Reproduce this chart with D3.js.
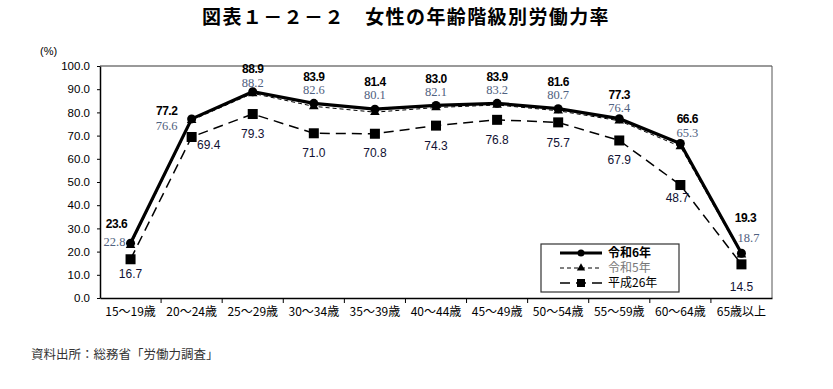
<!DOCTYPE html>
<html lang="ja">
<head>
<meta charset="utf-8">
<script src="https://cdn.jsdelivr.net/npm/d3@7"></script>
<style>
  body { margin: 0; background: #fff; }
  svg text { font-family: "Liberation Sans", Arial, "Noto Sans CJK JP", sans-serif; }
  .cjk { font-family: "Noto Sans CJK JP", sans-serif !important; }
</style>
</head>
<body>
<script>
var categories = ["15～19歳","20～24歳","25～29歳","30～34歳","35～39歳","40～44歳","45～49歳","50～54歳","55～59歳","60～64歳","65歳以上"];
var r6  = [23.6, 77.2, 88.9, 83.9, 81.4, 83.0, 83.9, 81.6, 77.3, 66.6, 19.3];
var r5  = [22.8, 76.6, 88.2, 82.6, 80.1, 82.1, 83.2, 80.7, 76.4, 65.3, 18.7];
var h26 = [16.7, 69.4, 79.3, 71.0, 70.8, 74.3, 76.8, 75.7, 67.9, 48.7, 14.5];
var yTicks = [0,10,20,30,40,50,60,70,80,90,100];

var width = 833, height = 389;
var pLeft = 100, pRight = 772, pTop = 66, pBottom = 298;

var svg = d3.select("body").append("svg")
    .attr("width", width).attr("height", height);

var x = d3.scaleBand().domain(categories).range([pLeft, pRight]);
var y = d3.scaleLinear().domain([0, 100]).range([pBottom, pTop]);
function cx(i) { return x(categories[i]) + x.bandwidth() / 2; }

// title
svg.append("text").attr("class", "cjk")
    .attr("x", 406).attr("y", 24).attr("text-anchor", "middle")
    .attr("font-size", 19).attr("font-weight", "bold").attr("letter-spacing", 1.4)
    .text("図表１－２－２　女性の年齢階級別労働力率");

svg.append("text").attr("x", 40).attr("y", 55)
    .attr("font-size", 11).text("(%)");

// frame
svg.append("line").attr("x1", pLeft).attr("x2", pRight).attr("y1", pTop).attr("y2", pTop)
    .attr("stroke", "#777").attr("stroke-width", 1.5);
svg.append("line").attr("x1", pRight).attr("x2", pRight).attr("y1", pTop).attr("y2", pBottom)
    .attr("stroke", "#555").attr("stroke-width", 1);

// y axis
var yAxis = svg.append("g").attr("transform", "translate(" + pLeft + ",0)")
    .call(d3.axisLeft(y).tickValues(yTicks).tickFormat(d3.format(".1f")).tickSize(3).tickSizeOuter(0));
yAxis.selectAll("text").attr("font-size", 11.5).attr("fill", "#000").attr("x", -10);
yAxis.select(".domain").attr("stroke", "#000").attr("stroke-width", 1.5);

// x axis
var xAxis = svg.append("g").attr("transform", "translate(0," + pBottom + ")")
    .call(d3.axisBottom(x).tickSize(0));
xAxis.select(".domain").attr("stroke", "#000").attr("stroke-width", 1.5);
xAxis.selectAll("text").attr("class", "cjk").attr("font-size", 12).attr("fill", "#000").attr("dy", "1.25em");
svg.append("g").selectAll("line").data(categories.slice(1)).enter().append("line")
    .attr("x1", function(d) { return x(d); }).attr("x2", function(d) { return x(d); })
    .attr("y1", pBottom).attr("y2", pBottom + 5).attr("stroke", "#000");

var line = d3.line().x(function(d, i) { return cx(i); }).y(function(d) { return y(d); });

// H26
svg.append("path").datum(h26).attr("d", line).attr("fill", "none")
    .attr("stroke", "#000").attr("stroke-width", 1.5).attr("stroke-dasharray", "10,6");
svg.append("g").selectAll("rect").data(h26).enter().append("rect")
    .attr("x", function(d, i) { return cx(i) - 5; }).attr("y", function(d) { return y(d) - 5; })
    .attr("width", 10).attr("height", 10).attr("fill", "#000");

// R5
svg.append("path").datum(r5).attr("d", line).attr("fill", "none")
    .attr("stroke", "#000").attr("stroke-width", 1).attr("stroke-dasharray", "4,3");
var tri = d3.symbol().type(d3.symbolTriangle).size(40);
svg.append("g").selectAll("path").data(r5).enter().append("path")
    .attr("d", tri).attr("transform", function(d, i) { return "translate(" + cx(i) + "," + y(d) + ")"; });

// R6
svg.append("path").datum(r6).attr("d", line).attr("fill", "none")
    .attr("stroke", "#000").attr("stroke-width", 3.2);
svg.append("g").selectAll("circle").data(r6).enter().append("circle")
    .attr("cx", function(d, i) { return cx(i); }).attr("cy", function(d) { return y(d); })
    .attr("r", 4.5).attr("fill", "#000");

// value labels (offsets from the point; r5 labels are placed under the r6 label)
var r6Off  = [[-14, -19], [-25, -8], [0, -23], [0, -27], [0, -27], [0, -27], [0, -27], [0, -27], [0, -24], [7, -25], [4, -35]];
var r5Off  = [[-16, -2], [-25, 7], [0, -9], [0, -14], [0, -15], [0, -14], [0, -14], [0, -14], [0, -11], [7, -11], [7, -16]];
var h26Off = [[0, 15], [17, 8], [0, 20], [0, 20], [0, 19], [0, 20], [0, 20], [0, 20], [0, 19], [-3, 13], [0, 22]];

svg.append("g").selectAll("text").data(r6).enter().append("text")
    .attr("x", function(d, i) { return cx(i) + r6Off[i][0]; })
    .attr("y", function(d, i) { return y(d) + r6Off[i][1]; })
    .attr("dy", "0.35em").attr("text-anchor", "middle")
    .attr("font-size", 12).attr("font-weight", "bold").attr("letter-spacing", -0.5)
    .text(function(d) { return d.toFixed(1); });
svg.append("g").selectAll("text").data(r5).enter().append("text")
    .attr("x", function(d, i) { return cx(i) + r5Off[i][0]; })
    .attr("y", function(d, i) { return y(r6[i]) + r5Off[i][1]; })
    .attr("dy", "0.35em").attr("text-anchor", "middle")
    .attr("font-size", 12.5).attr("fill", "#4f6180")
    .style("font-family", "'Liberation Serif', 'DejaVu Serif', serif")
    .text(function(d) { return d.toFixed(1); });
svg.append("g").selectAll("text").data(h26).enter().append("text")
    .attr("x", function(d, i) { return cx(i) + h26Off[i][0]; })
    .attr("y", function(d, i) { return y(d) + h26Off[i][1]; })
    .attr("dy", "0.35em").attr("text-anchor", "middle")
    .attr("font-size", 12).attr("fill", "#111133")
    .text(function(d) { return d.toFixed(1); });

// legend
var leg = svg.append("g");
leg.append("rect").attr("x", 541).attr("y", 244).attr("width", 138).attr("height", 48)
    .attr("fill", "#fff").attr("stroke", "#333").attr("stroke-width", 1.2);
var legItems = [
  { name: "令和6年", w: 3, dash: null, mark: "circle", color: "#000", bold: true },
  { name: "令和5年", w: 1, dash: "4,3", mark: "tri", color: "#777", bold: false },
  { name: "平成26年", w: 1.5, dash: "10,6", mark: "rect", color: "#000", bold: false }
];
legItems.forEach(function(it, k) {
  var ly = 253 + k * 15;
  leg.append("line").attr("x1", 560).attr("x2", 602).attr("y1", ly).attr("y2", ly)
    .attr("stroke", "#000").attr("stroke-width", it.w).attr("stroke-dasharray", it.dash);
  if (it.mark === "circle") leg.append("circle").attr("cx", 581).attr("cy", ly).attr("r", 3.5);
  if (it.mark === "tri") leg.append("path").attr("d", d3.symbol().type(d3.symbolTriangle).size(30)).attr("transform", "translate(581," + ly + ")");
  if (it.mark === "rect") leg.append("rect").attr("x", 577).attr("y", ly - 4).attr("width", 8).attr("height", 8);
  leg.append("text").attr("class", "cjk").attr("x", 608).attr("y", ly).attr("dy", "0.35em")
    .attr("font-size", 12).attr("font-weight", it.bold ? "bold" : "normal").attr("fill", it.color)
    .text(it.name);
});

// source
svg.append("text").attr("class", "cjk").attr("x", 31).attr("y", 359)
    .attr("font-size", 12.5).attr("fill", "#333")
    .text("資料出所：総務省「労働力調査」");
</script>
</body>
</html>
